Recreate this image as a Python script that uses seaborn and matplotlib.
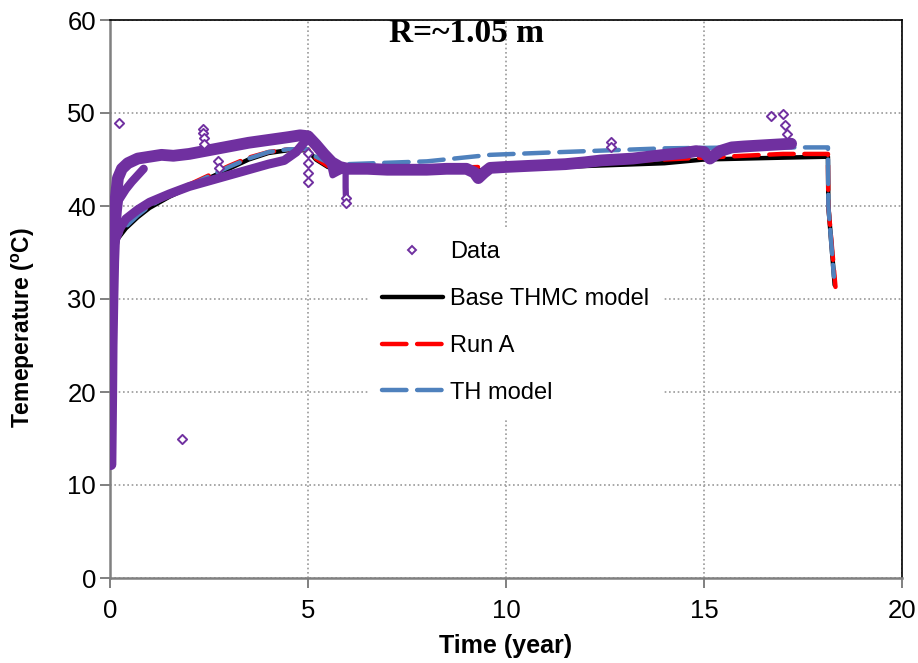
import matplotlib
matplotlib.use("Agg")
import matplotlib.pyplot as plt
from matplotlib.lines import Line2D
import seaborn as sns

# ---- measured temperatures (Data), drawn as dense bands per sensor branch ----
rise_t = [0.02, 0.03, 0.04, 0.05, 0.07, 0.09, 0.12, 0.16, 0.20]
rise_T = [12.2, 16.0, 20.0, 25.0, 30.0, 34.0, 37.5, 39.5, 41.0]

upper_t = [0.10, 0.20, 0.30, 0.45, 0.70, 1.00, 1.30, 1.60, 2.00, 2.50, 3.00, 3.50, 4.00, 4.50, 4.80, 5.00,
           5.20, 5.40, 5.60, 5.80, 6.00, 6.50, 7.00, 7.50, 8.00, 8.50, 9.00, 9.20, 9.30, 9.45, 9.60, 10.00,
           10.50, 11.00, 11.50, 12.00, 12.40, 12.80, 13.20, 13.60, 14.00, 14.50, 14.80, 15.00, 15.15,
           15.40, 15.70, 16.00, 16.40, 16.80, 17.20]
upper_T = [39.0, 43.0, 44.0, 44.6, 45.1, 45.3, 45.5, 45.4, 45.6, 46.0, 46.4, 46.8, 47.1, 47.4, 47.6, 47.5,
           46.6, 45.6, 44.7, 44.2, 44.0, 44.0, 43.9, 43.9, 43.9, 44.0, 44.0, 43.6, 43.0, 43.6, 44.1, 44.2,
           44.3, 44.4, 44.5, 44.7, 44.9, 45.0, 45.1, 45.3, 45.5, 45.7, 45.9, 45.8, 45.1,
           45.9, 46.3, 46.4, 46.5, 46.6, 46.7]

lower_t = [0.15, 0.25, 0.40, 0.70, 1.00, 1.50, 2.00, 2.50, 3.00, 3.50, 4.00, 4.40, 4.70, 4.90]
lower_T = [36.5, 37.6, 38.6, 39.6, 40.4, 41.3, 42.1, 42.7, 43.3, 43.9, 44.5, 44.9, 45.8, 46.8]

middle_t = [0.25, 0.40, 0.55, 0.70, 0.85]
middle_T = [40.8, 41.8, 42.6, 43.3, 44.0]

dip_t = [5.55, 5.62, 5.75, 5.95, 5.95, 5.96]
dip_T = [44.6, 43.3, 43.6, 44.0, 42.0, 40.6]

# isolated readings
out_t = [0.23, 1.82, 2.35, 2.35, 2.37, 2.38, 2.72, 2.75, 4.99, 4.99, 4.99, 4.99,
         5.95, 5.95, 12.65, 12.65, 16.70, 17.00, 17.05, 17.10]
out_T = [48.9, 15.0, 48.3, 47.8, 47.3, 46.7, 44.8, 44.1, 45.7, 44.6, 43.6, 42.6,
         40.9, 40.3, 46.9, 46.3, 49.7, 49.9, 48.7, 47.7]

# ---- model curves ----
base_t = [0.00, 0.05, 0.20, 0.40, 0.70, 1.00, 1.50, 2.00, 2.50, 3.00, 3.50, 4.00, 4.50, 5.00,
          5.20, 5.50, 6.00, 8.00, 10.00, 12.00, 14.00, 15.00, 16.00, 17.00, 18.13, 18.14, 18.30]
base_T = [30.5, 33.0, 36.5, 37.6, 38.8, 39.8, 41.0, 42.0, 43.0, 44.0, 45.0, 45.7, 46.0, 46.0,
          45.0, 44.2, 43.8, 43.7, 43.9, 44.3, 44.6, 45.0, 45.1, 45.2, 45.3, 40.0, 31.5]

runA_t = [0.00, 0.05, 0.20, 0.40, 0.70, 1.00, 1.50, 2.00, 2.50, 3.00, 3.50, 4.00, 4.50, 5.00,
          5.20, 5.50, 6.00, 8.00, 10.00, 12.00, 14.00, 15.00, 16.00, 17.00, 18.13, 18.14, 18.32]
runA_T = [31.0, 33.5, 36.8, 37.9, 39.1, 40.1, 41.3, 42.3, 43.3, 44.3, 45.2, 45.8, 46.1, 46.1,
          45.1, 44.3, 44.0, 44.0, 44.3, 44.7, 45.0, 45.2, 45.4, 45.6, 45.6, 40.0, 31.3]

th_t = [0.00, 0.05, 0.20, 0.40, 0.70, 1.00, 1.50, 2.00, 2.50, 3.00, 3.50, 4.00, 4.50, 5.00,
        5.20, 5.60, 6.00, 8.00, 9.60, 11.40, 14.00, 16.00, 17.60, 18.13, 18.14, 18.28]
th_T = [30.8, 33.3, 36.7, 37.8, 39.0, 40.0, 41.2, 42.2, 43.2, 44.2, 45.1, 45.8, 46.1, 46.1,
        45.3, 44.5, 44.5, 44.8, 45.5, 45.8, 46.2, 46.3, 46.3, 46.3, 40.0, 32.4]

x_ticks = [0, 5, 10, 15, 20]
y_ticks = [0, 10, 20, 30, 40, 50, 60]

PURPLE = "#7030A0"
RED = "#FF0000"
BLUE = "#4F81BD"
GRAY = "#808080"

sns.set_theme(style="white")
plt.rcParams["font.family"] = ["Liberation Sans", "DejaVu Sans"]
plt.rcParams["mathtext.fontset"] = "custom"
plt.rcParams["mathtext.rm"] = "Liberation Sans:bold"
plt.rcParams["text.color"] = "black"
plt.rcParams["axes.labelcolor"] = "black"

fig = plt.figure(figsize=(9.18, 6.63), dpi=100)
ax = fig.add_axes([110 / 918, 1 - 578 / 663, 792 / 918, 558 / 663])

# model curves
sns.lineplot(x=base_t, y=base_T, sort=False, estimator=None, color="black", lw=3.2, ax=ax, zorder=3)
sns.lineplot(x=runA_t, y=runA_T, sort=False, estimator=None, color=RED, lw=3.2, ax=ax, zorder=4,
             dashes=False, linestyle=(0, (5.5, 2.4)), dash_capstyle="round")
sns.lineplot(x=th_t, y=th_T, sort=False, estimator=None, color=BLUE, lw=3.2, ax=ax, zorder=4,
             dashes=False, linestyle=(0, (5.5, 2.4)), dash_capstyle="round")

# measured data bands
for bt, bT, w in [(rise_t, rise_T, 8.0), (upper_t, upper_T, 8.5), (lower_t, lower_T, 6.5),
                  (middle_t, middle_T, 6.0), (dip_t, dip_T, 4.5)]:
    sns.lineplot(x=bt, y=bT, sort=False, estimator=None, color=PURPLE, lw=w, ax=ax, zorder=5,
                 solid_capstyle="round", solid_joinstyle="round")
ax.scatter(out_t, out_T, marker="D", s=22, facecolors="white", edgecolors=PURPLE, linewidths=1.4, zorder=6)

ax.set_xlim(0, 20)
ax.set_ylim(0, 60)
ax.set_xticks(x_ticks)
ax.set_yticks(y_ticks)
ax.set_xticklabels([str(v) for v in x_ticks])
ax.set_yticklabels([str(v) for v in y_ticks])
ax.tick_params(axis="both", which="major", labelsize=18.5, direction="out", length=7, width=1.4,
               color=GRAY, bottom=True, left=True, labelcolor="black")
ax.tick_params(axis="x", pad=8)
ax.tick_params(axis="y", pad=3)

ax.grid(True, color="#9a9a9a", linestyle=(0, (1, 1.6)), linewidth=1.2)
ax.set_axisbelow(True)

for side in ["left", "bottom"]:
    ax.spines[side].set_color(GRAY)
    ax.spines[side].set_linewidth(1.8)
for side in ["top", "right"]:
    ax.spines[side].set_color("black")
    ax.spines[side].set_linewidth(1.2)

ax.set_xlabel("Time (year)", fontsize=18, fontweight="bold", labelpad=8)
ax.set_ylabel("Temeperature ($\\mathregular{^o}$C)", fontsize=16.5, fontweight="bold")
ax.yaxis.set_label_coords(-0.092, 0.448)

ax.text(9.0, 58.6, "R=~1.05 m", fontsize=24, fontweight="bold", family=["Liberation Serif"],
        ha="center", va="center", zorder=8)

handles = [
    Line2D([], [], linestyle="none", marker="D", markersize=4.5, markerfacecolor="white",
           markeredgecolor=PURPLE, markeredgewidth=1.4),
    Line2D([], [], color="black", lw=3.2),
    Line2D([], [], color=RED, lw=3.2, linestyle=(0, (5.5, 2.4)), dash_capstyle="round"),
    Line2D([], [], color=BLUE, lw=3.2, linestyle=(0, (5.5, 2.4)), dash_capstyle="round"),
]
labels = ["Data", "Base THMC model", "Run A", "TH model"]
leg = ax.legend(handles, labels, loc="upper left", bbox_to_anchor=(0.326, 0.629), fontsize=17,
                frameon=True, facecolor="white", edgecolor="none", framealpha=1, fancybox=False,
                handlelength=2.55, handletextpad=0.3, labelspacing=1.05, borderpad=0.6, borderaxespad=0)
leg.set_zorder(10)
for txt in leg.get_texts():
    txt.set_color("black")

fig.savefig("out.png", dpi=100, facecolor="white")
